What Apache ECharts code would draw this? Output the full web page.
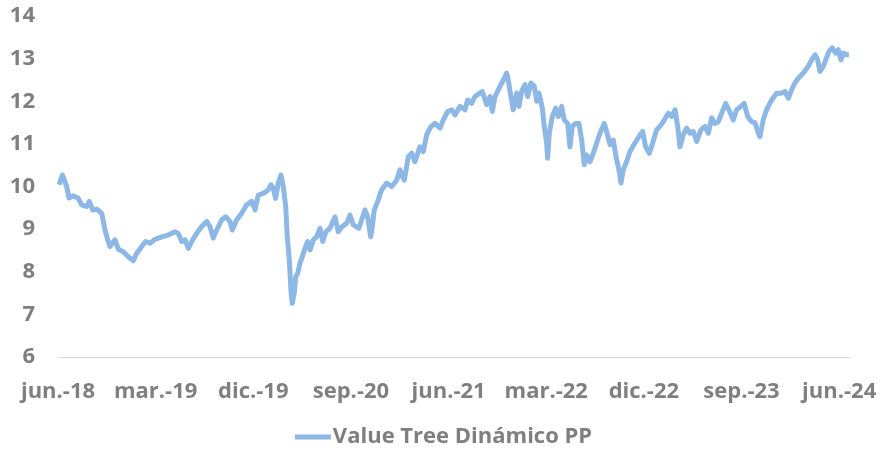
<!DOCTYPE html>
<html>
<head>
<meta charset="utf-8">
<script src="https://cdn.jsdelivr.net/npm/echarts@6/dist/echarts.min.js"></script>
<style>
  html, body { margin: 0; padding: 0; background: #fff; }
  #chart { width: 887px; height: 457px; }
</style>
</head>
<body>
<div id="chart"></div>
<script>
// months since jun-18
const meses = [
  0.1, 0.4, 0.58, 0.8, 1.01, 1.38, 1.84, 2.18, 2.65, 2.88, 3.2, 3.57, 4.03, 4.33, 4.58, 4.79,
  5.25, 5.56, 6.02, 6.48, 6.94, 7.25, 7.77, 8.08, 8.48, 8.94,
  9.56, 10.17, 10.78, 11.09, 11.4, 11.71, 12.01, 12.32, 12.78, 13.24, 13.71, 14.01, 14.31, 14.63,
  15.09, 15.46, 15.85, 16.06, 16.47, 16.93, 17.39, 17.85, 18.16, 18.46,
  18.92, 19.38, 19.63, 19.84, 20.06, 20.3, 20.55, 20.76, 20.99, 21.13, 21.32, 21.47, 21.59, 21.78,
  21.91, 22.09, 22.3, 22.52, 22.76, 23.01, 23.23, 23.53, 23.84, 24.15, 24.4, 24.7, 25.07, 25.53,
  25.83, 26.2, 26.61, 26.91, 27.22,
  27.74, 27.99, 28.29, 28.54, 28.82, 28.97, 29.15, 29.47, 29.83, 30.29, 30.76, 31.22, 31.52, 31.92,
  32.29, 32.6, 32.9, 33.36, 33.67, 33.98, 34.38, 34.75, 35.21, 35.51, 35.92, 36.29, 36.59,
  37.05, 37.51, 37.76, 38.13, 38.43, 38.89, 39.11, 39.51, 39.82, 40.03, 40.28, 40.74, 41.13, 41.35,
  41.5, 41.75, 41.96, 42.28, 42.49, 42.74, 43.04, 43.29, 43.59, 43.9, 44.12, 44.33, 44.64, 44.82,
  45.04, 45.13, 45.28, 45.56, 45.87,
  46.11, 46.42, 46.66, 46.98, 47.19, 47.4, 47.71, 48.02, 48.27, 48.51, 48.73, 49.03, 49.34, 49.65,
  49.95, 50.35, 50.57, 50.88, 51.18, 51.43, 51.71, 51.89, 52.1, 52.41, 52.72, 53.18, 53.64, 53.89,
  54.16, 54.5, 54.81, 55.18,
  55.48, 55.79, 56.25, 56.56, 56.87, 57.12, 57.33, 57.63, 57.94, 58.25, 58.55, 58.87, 59.26, 59.63,
  59.94, 60.25, 60.55, 60.86, 61.17, 61.54, 61.84, 62.24, 62.55, 62.95, 63.25, 63.57, 63.94,
  64.24, 64.55, 64.7, 65.0, 65.31, 65.78, 66.24, 66.7, 67.0, 67.31, 67.62, 67.93, 68.23, 68.69,
  69.15, 69.47, 69.77, 70.02, 70.23, 70.54, 70.76, 71.06, 71.36, 71.68, 71.92, 72.17, 72.38, 72.69, 72.9
];

const valores = [
  10.04, 10.27, 10.23, 10.0, 9.73, 9.78, 9.73, 9.57, 9.53, 9.65, 9.45, 9.47, 9.37, 8.98, 8.75, 8.59,
  8.75, 8.53, 8.47, 8.35, 8.26, 8.43, 8.61, 8.71, 8.67, 8.76,
  8.82, 8.86, 8.94, 8.9, 8.71, 8.75, 8.55, 8.71, 8.9, 9.06, 9.18, 9.06, 8.79, 8.98,
  9.22, 9.29, 9.18, 8.98, 9.22, 9.37, 9.57, 9.65, 9.45, 9.8,
  9.84, 9.92, 10.04, 9.96, 9.72, 10.08, 10.27, 10.0, 9.53, 8.82, 8.28, 7.57, 7.26, 7.5,
  7.88, 7.96, 8.2, 8.35, 8.55, 8.71, 8.51, 8.75, 8.82, 9.02, 8.71, 8.94, 9.02, 9.29,
  8.94, 9.06, 9.14, 9.33, 9.1,
  9.02, 9.22, 9.45, 9.29, 8.82, 9.06, 9.45, 9.65, 9.92, 10.08, 10.0, 10.15, 10.39, 10.15,
  10.7, 10.78, 10.58, 10.93, 10.82, 11.21, 11.41, 11.48, 11.37, 11.56, 11.76, 11.8, 11.68,
  11.88, 11.8, 12.03, 11.95, 12.11, 12.19, 12.23, 11.92, 12.11, 11.76, 12.11, 12.35, 12.54, 12.66,
  12.5, 12.11, 11.8, 12.19, 11.88, 12.23, 12.39, 12.11, 12.43, 12.35, 12.0, 12.19, 11.84, 11.41,
  11.02, 10.66, 11.25, 11.64, 11.84,
  11.64, 11.88, 11.56, 11.48, 10.93, 11.41, 11.48, 11.48, 11.09, 10.51, 10.74, 10.58, 10.78, 11.02,
  11.25, 11.48, 11.29, 10.98, 11.09, 10.7, 10.39, 10.08, 10.39, 10.58, 10.82, 11.02, 11.21, 11.29,
  10.93, 10.78, 11.02, 11.33,
  11.41, 11.52, 11.72, 11.64, 11.8, 11.41, 10.93, 11.21, 11.37, 11.25, 11.29, 11.06, 11.33, 11.41,
  11.25, 11.61, 11.48, 11.52, 11.72, 11.95, 11.8, 11.56, 11.8, 11.88, 11.95, 11.64, 11.52,
  11.5, 11.25, 11.17, 11.56, 11.8, 12.03, 12.19, 12.19, 12.23, 12.07, 12.27, 12.43, 12.54, 12.66,
  12.82, 12.97, 13.09, 12.97, 12.7, 12.82, 12.97, 13.17, 13.25, 13.13, 13.21, 12.97, 13.13, 13.09, 13.09
];

// one label every 9 months
const etiquetas = ['jun.-18', 'mar.-19', 'dic.-19', 'sep.-20', 'jun.-21', 'mar.-22', 'dic.-22', 'sep.-23', 'jun.-24'];
const nombreSerie = 'Value Tree Dinámico PP';

const gris = '#7f7f7f';
const fuente = {
    color: gris,
    fontFamily: 'Open Sans',
    fontWeight: 'bold',
    fontSize: 22
};

const chart = echarts.init(document.getElementById('chart'));
chart.setOption({
    animation: false,
    grid: { left: 58, right: 37, top: 16, bottom: 100 },
    xAxis: {
        type: 'value',
        min: 0,
        max: 73,
        interval: 9,
        axisLine: { show: true, onZero: false, lineStyle: { color: '#d9d9d9', width: 1 } },
        axisTick: { show: false },
        splitLine: { show: false },
        axisLabel: {
            ...fuente,
            margin: 24,
            showMaxLabel: false,
            formatter: v => (v % 9 === 0 ? etiquetas[v / 9] || '' : '')
        }
    },
    yAxis: {
        type: 'value',
        min: 6,
        max: 14,
        interval: 1,
        axisLine: { show: false },
        axisTick: { show: false },
        splitLine: { show: false },
        axisLabel: { ...fuente, margin: 23 }
    },
    legend: {
        bottom: 4,
        left: 'center',
        icon: 'rect',
        itemWidth: 36,
        itemHeight: 5,
        textStyle: { ...fuente, padding: [0, 0, 0, -3] },
        data: [nombreSerie]
    },
    series: [{
        name: nombreSerie,
        type: 'line',
        data: meses.map((m, i) => [m, valores[i]]),
        showSymbol: false,
        color: '#8db8e6',
        lineStyle: { width: 5, color: '#8db8e6', join: 'round' }
    }]
});
</script>
</body>
</html>
